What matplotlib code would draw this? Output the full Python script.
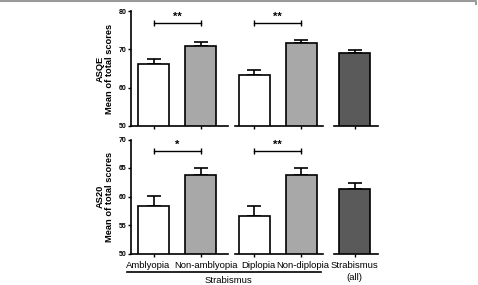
import numpy as np
import matplotlib

matplotlib.use("Agg")

import matplotlib.pyplot as plt
from matplotlib.lines import Line2D

plt.rcParams["font.family"] = ["Liberation Sans", "DejaVu Sans"]

# data (mean + upper SEM bar)
groups = ["Amblyopia", "Non-amblyopia", "Diplopia", "Non-diplopia", "Strabismus\n(all)"]
segments = [[0, 1], [2, 3], [4]]

asqe_mean = [66.3, 70.9, 63.2, 71.7, 69.0]
asqe_sem = [1.3, 1.0, 1.5, 0.8, 0.8]
asqe_stars = ["**", "**"]

as20_mean = [58.4, 63.7, 56.6, 63.8, 61.4]
as20_sem = [1.7, 1.3, 1.7, 1.2, 1.0]
as20_stars = ["*", "**"]

bar_fills = ["white", "#a8a8a8", "white", "#a8a8a8", "#5a5a5a"]

W_PX, H_PX = 478, 285
fig = plt.figure(figsize=(W_PX / 100, H_PX / 100), dpi=100)


def px_axes(x0, y0, x1, y1):
    return fig.add_axes([x0 / W_PX, 1 - y1 / H_PX, (x1 - x0) / W_PX, (y1 - y0) / H_PX])


# broken x axis: pixel extents of each segment and its first bar centre
seg_px = [(131, 228, 153.5), (235, 323, 254), (334, 378, 354.5)]
PX_PER_UNIT = 47.0
BAR_W = 31 / PX_PER_UNIT

rows = [
    dict(top=11, bottom=126, mean=asqe_mean, sem=asqe_sem, stars=asqe_stars,
         ylim=(50, 80), yticks=[50, 60, 70, 80], bracket=77.0,
         label="ASQE\nMean of total scores"),
    dict(top=139.5, bottom=253.5, mean=as20_mean, sem=as20_sem, stars=as20_stars,
         ylim=(50, 70), yticks=[50, 55, 60, 65, 70], bracket=68.0,
         label="AS20\nMean of total scores"),
]

label_shift = [-4, 4, 3, 1, 0]

for r, row in enumerate(rows):
    for s, (x0, x1, c0) in enumerate(seg_px):
        ax = px_axes(x0, row["top"], x1, row["bottom"])
        idx = segments[s]
        pos = np.arange(len(idx))
        means = [row["mean"][i] for i in idx]
        sems = [row["sem"][i] for i in idx]

        ax.bar(pos, means, width=BAR_W, color=[bar_fills[i] for i in idx],
               edgecolor="black", linewidth=1.2, zorder=2)
        ax.errorbar(pos, means, yerr=[np.zeros(len(idx)), sems], fmt="none",
                    ecolor="black", elinewidth=1.2, capsize=5, capthick=1.2, zorder=1)

        ax.set_xlim(-(c0 - x0) / PX_PER_UNIT, (x1 - c0) / PX_PER_UNIT)
        ax.set_ylim(*row["ylim"])
        ax.set_facecolor("none")

        for side in ["top", "right"]:
            ax.spines[side].set_visible(False)
        ax.spines["bottom"].set_linewidth(1.2)
        ax.spines["left"].set_linewidth(1.2)

        ax.set_xticks(pos)
        ax.set_xticklabels([])
        ax.tick_params(axis="x", direction="out", length=2.5, width=1.0)

        if s == 0:
            ax.set_yticks(row["yticks"])
            ax.set_yticklabels([str(t) for t in row["yticks"]],
                               fontsize=5, fontweight="bold")
            ax.tick_params(axis="y", direction="out", length=2.5, width=1.0, pad=1)
            ax.set_ylabel(row["label"], fontsize=6.7, fontweight="bold",
                          labelpad=3, linespacing=1.1)
        else:
            ax.spines["left"].set_visible(False)
            ax.yaxis.set_visible(False)

        if len(idx) == 2:
            star = row["stars"][s]
            ax.plot(pos, [row["bracket"]] * 2, color="black", linewidth=1.0,
                    marker="|", markersize=5, markeredgewidth=1.0)
            ax.annotate(star, xy=(pos.mean(), row["bracket"]), xytext=(0, 0.5),
                        textcoords="offset points", ha="center", va="bottom",
                        fontsize=8, fontweight="bold")

        if r == 1:
            for p, i in zip(pos, idx):
                ax.annotate(groups[i], xy=(p, 0), xycoords=("data", "axes fraction"),
                            xytext=(label_shift[i], -5.5), textcoords="offset points",
                            ha="center", va="top", fontsize=6.8, linespacing=1.4)

# group line and label under the first four bars
y_line = 1 - 272.3 / H_PX
fig.add_artist(Line2D([127 / W_PX, 321 / W_PX], [y_line, y_line],
                      color="black", linewidth=1.2))
fig.text(228 / W_PX, 1 - 280.7 / H_PX, "Strabismus", ha="center", va="center",
         fontsize=6.8)

# grey frame edge at the top of the panel
fig.add_artist(Line2D([0, 476 / W_PX, 476 / W_PX], [1 - 1 / H_PX, 1 - 1 / H_PX, 1 - 4 / H_PX],
                      color="#9a9a9a", linewidth=1.5))

fig.savefig("out.png", dpi=100)
